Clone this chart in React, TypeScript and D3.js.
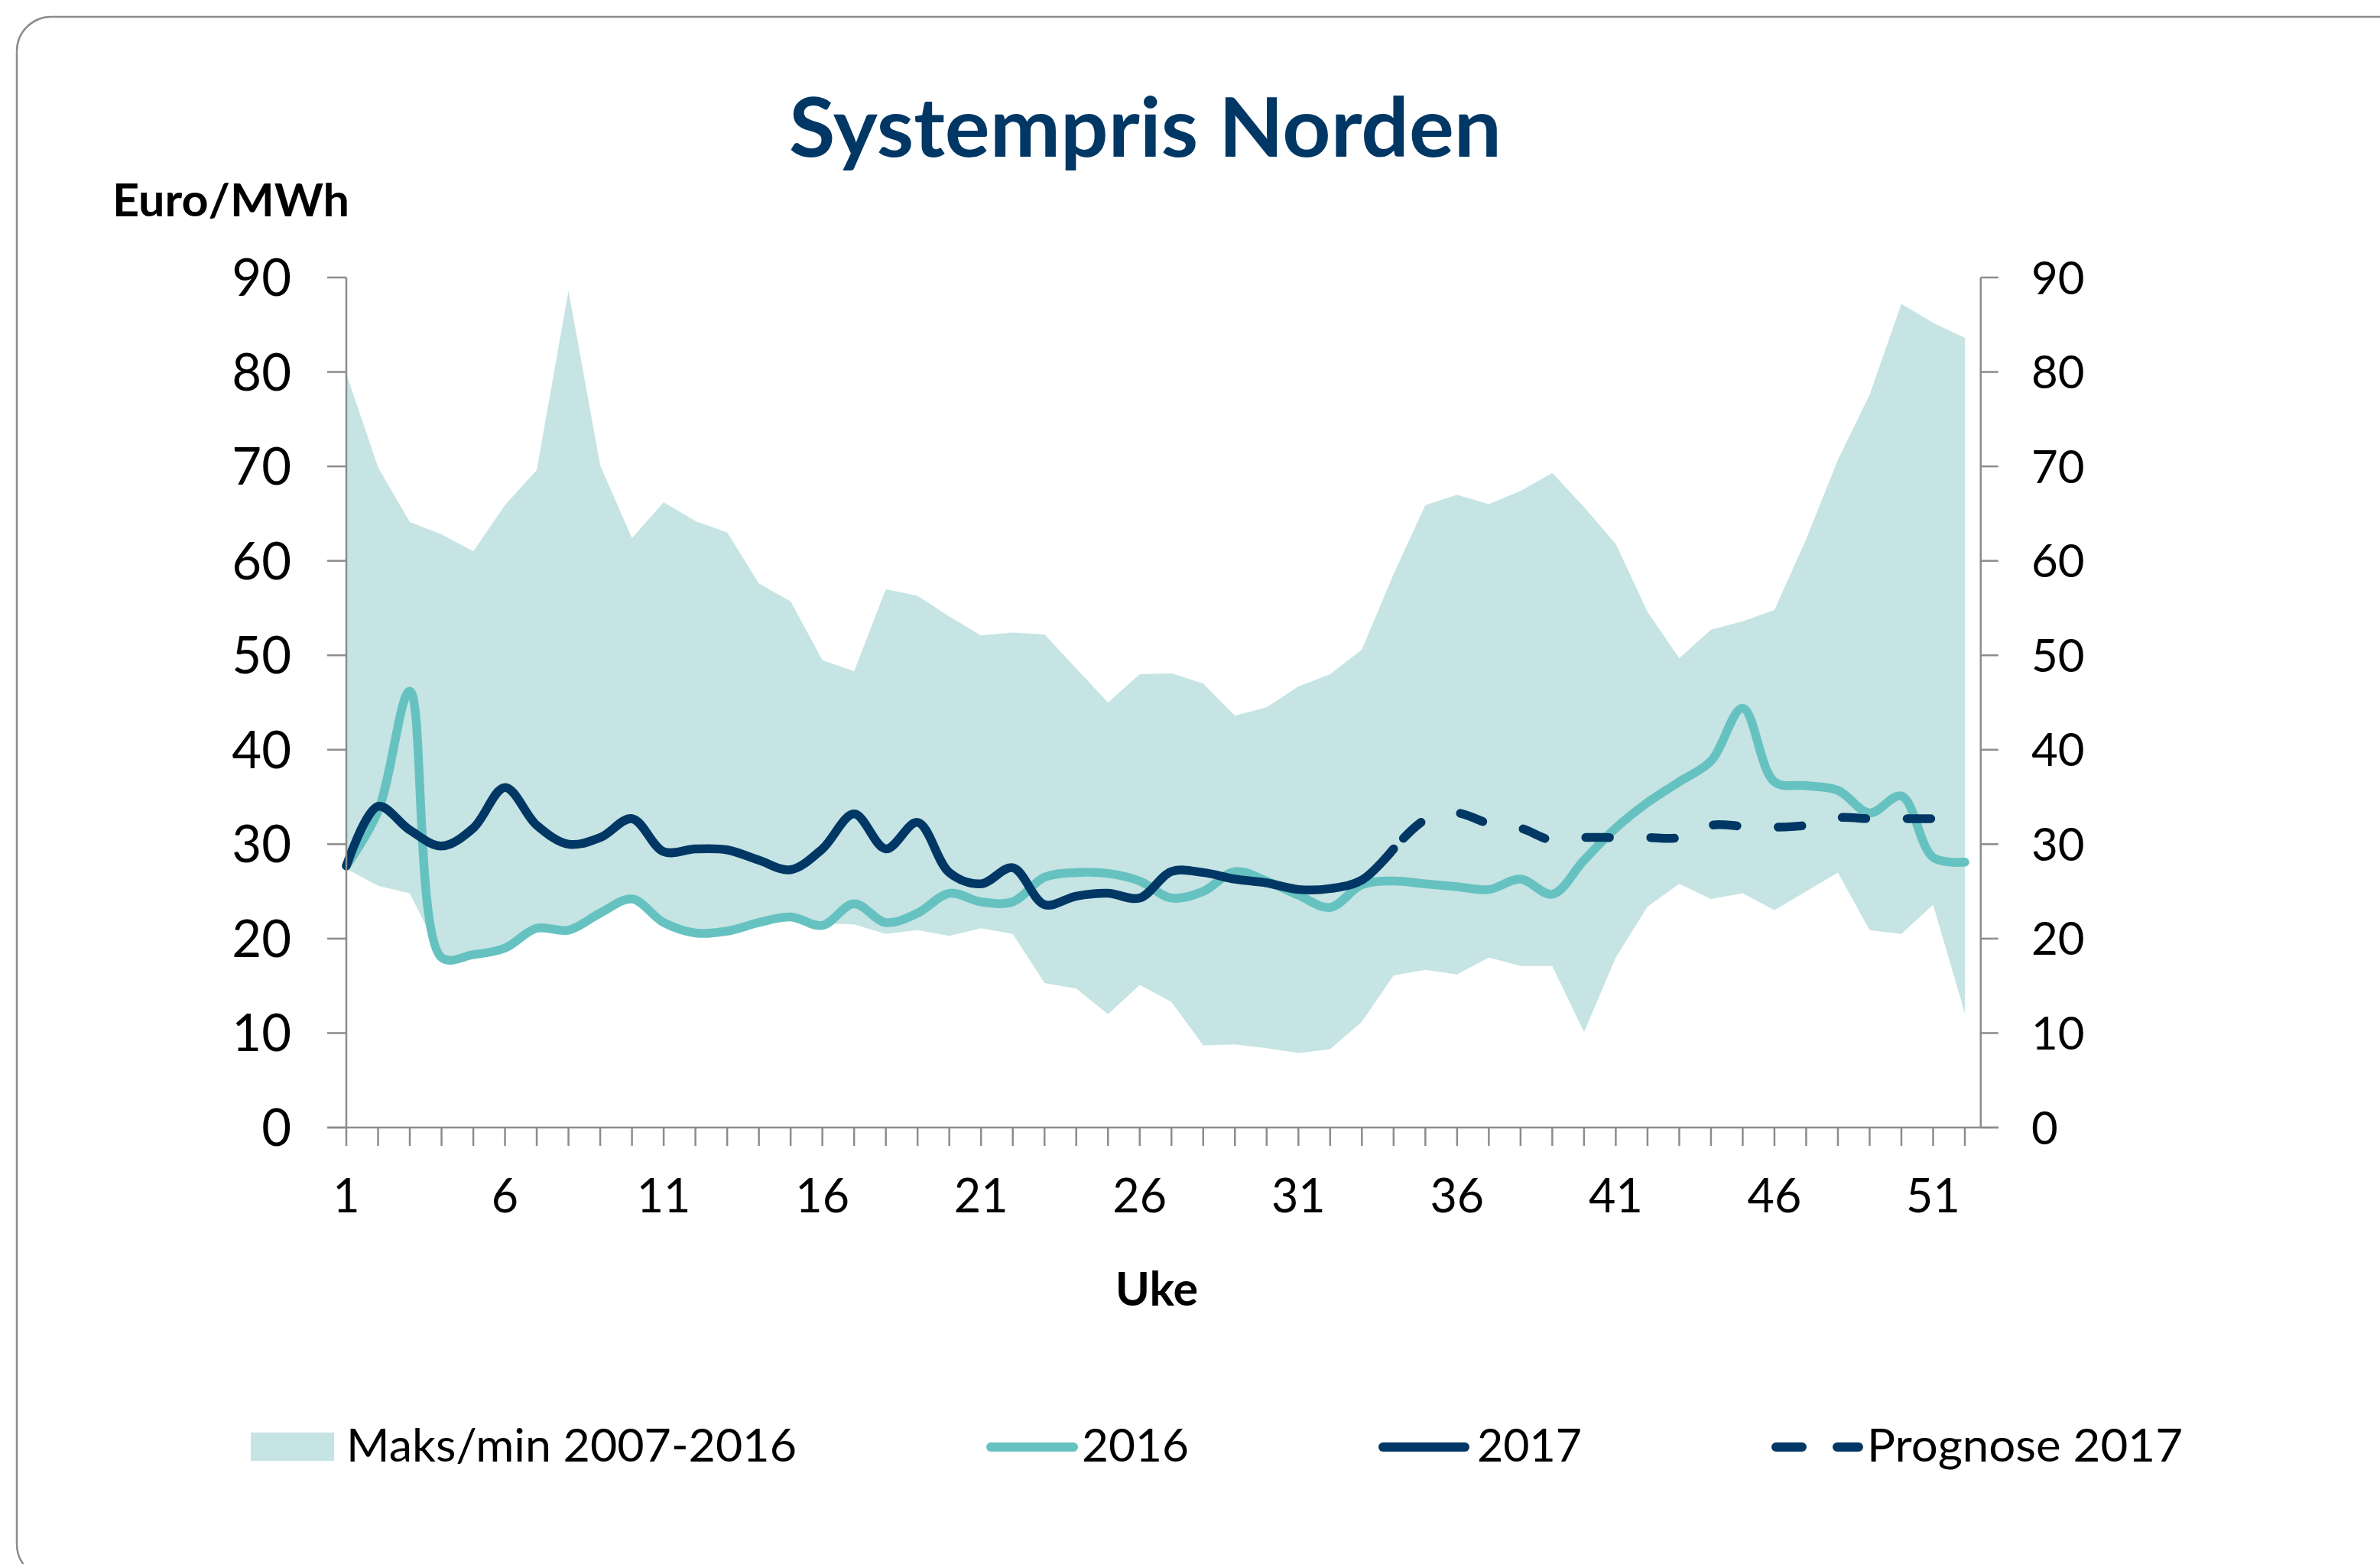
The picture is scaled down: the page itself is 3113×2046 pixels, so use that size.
import * as d3 from "d3";
import React, { useEffect, useRef } from "react";

// weekly system price, Euro/MWh
const weeks = d3.range(1, 53);
const xTickLabels = [1, 6, 11, 16, 21, 26, 31, 36, 41, 46, 51];
const yTicks = [0, 10, 20, 30, 40, 50, 60, 70, 80, 90];

const bandMax = [
  79.8, 69.9, 64.1, 62.8, 61.0, 65.9, 69.6, 88.6, 70.1, 62.4, 66.2, 64.2, 63.0,
  57.6, 55.7, 49.5, 48.3, 57.0, 56.3, 54.1, 52.1, 52.4, 52.2, 48.6, 45.0, 48.0,
  48.1, 47.0, 43.6, 44.5, 46.7, 48.0, 50.6, 58.6, 65.9, 67.0, 66.0, 67.4, 69.3,
  65.7, 61.8, 54.6, 49.7, 52.7, 53.6, 54.8, 62.3, 70.7, 77.6, 87.2, 85.2, 83.6,
];
const bandMin = [
  27.4, 25.6, 24.8, 18.0, 18.3, 19.0, 21.0, 21.0, 22.6, 24.0, 21.7, 20.6, 20.8,
  21.6, 22.2, 21.6, 21.5, 20.5, 20.9, 20.3, 21.1, 20.5, 15.3, 14.7, 12.0, 15.1,
  13.3, 8.7, 8.8, 8.4, 7.9, 8.3, 11.2, 16.1, 16.7, 16.2, 18.0, 17.1, 17.1, 10.1,
  18.0, 23.4, 25.8, 24.2, 24.8, 23.0, 25.0, 27.0, 20.9, 20.5, 23.6, 12.1,
];
const price2016 = [
  27.7, 33.5, 46.2, 18.0, 18.3, 19.0, 21.1, 20.9, 22.7, 24.2, 21.7, 20.6, 20.8,
  21.7, 22.3, 21.4, 23.7, 21.7, 22.7, 24.8, 23.9, 23.9, 26.5, 27.0, 26.9, 26.1,
  24.3, 25.0, 27.1, 26.1, 24.6, 23.3, 25.7, 26.1, 25.8, 25.5, 25.2, 26.3, 24.7,
  28.3, 31.7, 34.4, 36.6, 38.8, 44.4, 36.6, 36.2, 35.7, 33.3, 35.1, 28.6, 28.1,
];
// 2017 runs week 1-34, the forecast week 34-52
const price2017 = [
  27.7, 34.0, 31.5, 29.8, 31.7, 36.0, 32.0, 30.0, 30.7, 32.7, 29.2, 29.5, 29.4,
  28.3, 27.3, 29.5, 33.2, 29.5, 32.3, 27.0, 25.8, 27.5, 23.6, 24.5, 24.8, 24.3,
  27.1, 27.0, 26.3, 25.9, 25.2, 25.3, 26.2, 29.5,
];
const forecastStart = 34;
const forecast2017 = [
  29.5, 32.6, 33.3, 32.2, 31.7, 30.4, 30.7, 30.7, 30.7, 30.7, 32.0, 31.9, 31.8,
  32.0, 32.8, 32.7, 32.7, 32.7, 32.7,
];

const legendItems = ["Maks/min 2007-2016", "2016", "2017", "Prognose 2017"];

const W = 3113;
const H = 2046;
const FONT = "Lato, 'Open Sans', sans-serif";
const BAND = "#c5e4e3";
const TEAL = "#66c2c0";
const NAVY = "#003764";
const AXIS = "#8c8c8c";

const Chart: React.FC = () => {
  const ref = useRef<SVGSVGElement>(null);

  useEffect(() => {
    if (!ref.current) return;
    const svg = d3.select(ref.current);
    svg.selectAll("*").remove();

    const x = d3.scaleLinear().domain([1, 52]).range([453, 2570]);
    const y = d3.scaleLinear().domain([0, 90]).range([1475, 363]);
    const rightAxisX = x(52.5);

    // card
    svg
      .append("rect")
      .attr("x", 22)
      .attr("y", 22)
      .attr("width", 3200)
      .attr("height", 2043)
      .attr("rx", 45)
      .attr("fill", "#fff")
      .attr("stroke", AXIS)
      .attr("stroke-width", 2.5);

    // title
    svg
      .append("text")
      .attr("x", 1498)
      .attr("y", 205)
      .attr("text-anchor", "middle")
      .attr("textLength", 932)
      .attr("lengthAdjust", "spacingAndGlyphs")
      .style("font-family", FONT)
      .style("font-weight", 700)
      .style("font-size", "107px")
      .style("fill", NAVY)
      .text("Systempris Norden");

    svg
      .append("text")
      .attr("x", 147)
      .attr("y", 283)
      .attr("textLength", 310)
      .attr("lengthAdjust", "spacingAndGlyphs")
      .style("font-family", FONT)
      .style("font-weight", 700)
      .style("font-size", "60px")
      .text("Euro/MWh");

    // min/max band
    const area = d3
      .area<number>()
      .x((w) => x(w))
      .y0((_, i) => y(bandMin[i]))
      .y1((_, i) => y(bandMax[i]));
    svg.append("path").datum(weeks).attr("d", area).attr("fill", BAND);

    const curve = d3.curveCatmullRom.alpha(0.5);
    const line = d3
      .line<[number, number]>()
      .x((d) => x(d[0]))
      .y((d) => y(d[1]))
      .curve(curve);

    svg
      .append("path")
      .datum(price2016.map((v, i) => [weeks[i], v] as [number, number]))
      .attr("d", line)
      .attr("fill", "none")
      .attr("stroke", TEAL)
      .attr("stroke-width", 11.5)
      .attr("stroke-linecap", "round");

    svg
      .append("path")
      .datum(
        forecast2017.map((v, i) => [forecastStart + i, v] as [number, number])
      )
      .attr("d", line)
      .attr("fill", "none")
      .attr("stroke", NAVY)
      .attr("stroke-width", 11.5)
      .attr("stroke-linecap", "round")
      .attr("stroke-dasharray", "31 54")
      .attr("stroke-dashoffset", 66);

    svg
      .append("path")
      .datum(price2017.map((v, i) => [weeks[i], v] as [number, number]))
      .attr("d", line)
      .attr("fill", "none")
      .attr("stroke", NAVY)
      .attr("stroke-width", 11.5)
      .attr("stroke-linecap", "round");

    // axes
    const axes = svg
      .append("g")
      .attr("stroke", AXIS)
      .attr("stroke-width", 2.5)
      .attr("fill", "none");
    axes
      .append("line")
      .attr("x1", x(1))
      .attr("x2", x(1))
      .attr("y1", y(90))
      .attr("y2", y(0));
    axes
      .append("line")
      .attr("x1", rightAxisX)
      .attr("x2", rightAxisX)
      .attr("y1", y(90))
      .attr("y2", y(0));
    axes
      .append("line")
      .attr("x1", x(1) - 25)
      .attr("x2", rightAxisX + 23)
      .attr("y1", y(0))
      .attr("y2", y(0));
    axes
      .selectAll(".lt")
      .data(yTicks)
      .enter()
      .append("line")
      .attr("x1", x(1) - 25)
      .attr("x2", x(1))
      .attr("y1", (d) => y(d))
      .attr("y2", (d) => y(d));
    axes
      .selectAll(".rt")
      .data(yTicks)
      .enter()
      .append("line")
      .attr("x1", rightAxisX)
      .attr("x2", rightAxisX + 23)
      .attr("y1", (d) => y(d))
      .attr("y2", (d) => y(d));
    axes
      .selectAll(".xt")
      .data(weeks)
      .enter()
      .append("line")
      .attr("x1", (d) => x(d))
      .attr("x2", (d) => x(d))
      .attr("y1", y(0))
      .attr("y2", y(0) + 24);

    // tick labels
    svg
      .selectAll(".ly")
      .data(yTicks)
      .enter()
      .append("text")
      .attr("x", 381)
      .attr("y", (d) => y(d) + 24)
      .attr("text-anchor", "end")
      .style("font-family", FONT)
      .style("font-size", "67px")
      .text((d) => d);
    svg
      .selectAll(".ry")
      .data(yTicks)
      .enter()
      .append("text")
      .attr("x", 2657)
      .attr("y", (d) => y(d) + 21.5)
      .style("font-family", FONT)
      .style("font-size", "60px")
      .text((d) => d);
    svg
      .selectAll(".xl")
      .data(xTickLabels)
      .enter()
      .append("text")
      .attr("x", (d) => x(d))
      .attr("y", 1586)
      .attr("text-anchor", "middle")
      .style("font-family", FONT)
      .style("font-size", "61px")
      .text((d) => d);

    svg
      .append("text")
      .attr("x", 1513)
      .attr("y", 1708)
      .attr("text-anchor", "middle")
      .style("font-family", FONT)
      .style("font-weight", 700)
      .style("font-size", "61px")
      .text("Uke");

    // legend
    const ly = 1893;
    const leg = svg.append("g");
    leg
      .append("rect")
      .attr("x", 328)
      .attr("y", 1874)
      .attr("width", 109)
      .attr("height", 37)
      .attr("fill", BAND);
    leg
      .append("line")
      .attr("x1", 1296)
      .attr("x2", 1404)
      .attr("y1", ly)
      .attr("y2", ly)
      .attr("stroke", TEAL)
      .attr("stroke-width", 12)
      .attr("stroke-linecap", "round");
    leg
      .append("line")
      .attr("x1", 1809)
      .attr("x2", 1916)
      .attr("y1", ly)
      .attr("y2", ly)
      .attr("stroke", NAVY)
      .attr("stroke-width", 12)
      .attr("stroke-linecap", "round");
    leg
      .append("line")
      .attr("x1", 2323)
      .attr("x2", 2431)
      .attr("y1", ly)
      .attr("y2", ly)
      .attr("stroke", NAVY)
      .attr("stroke-width", 12)
      .attr("stroke-linecap", "round")
      .attr("stroke-dasharray", "34 46");

    const legendText = [
      { x: 453, w: 589 },
      { x: 1415, w: 140 },
      { x: 1932, w: 137 },
      { x: 2442, w: 413 },
    ];
    leg
      .selectAll("text")
      .data(legendItems)
      .enter()
      .append("text")
      .attr("x", (_, i) => legendText[i].x)
      .attr("y", 1912)
      .attr("textLength", (_, i) => legendText[i].w)
      .attr("lengthAdjust", "spacingAndGlyphs")
      .style("font-family", FONT)
      .style("font-size", "60px")
      .text((d) => d);
  }, []);

  return (
    <svg
      ref={ref}
      width={W}
      height={H}
      style={{ position: "absolute", left: 0, top: 0, background: "#fff" }}
    ></svg>
  );
};

const App: React.FC = () => <Chart />;

export default App;
